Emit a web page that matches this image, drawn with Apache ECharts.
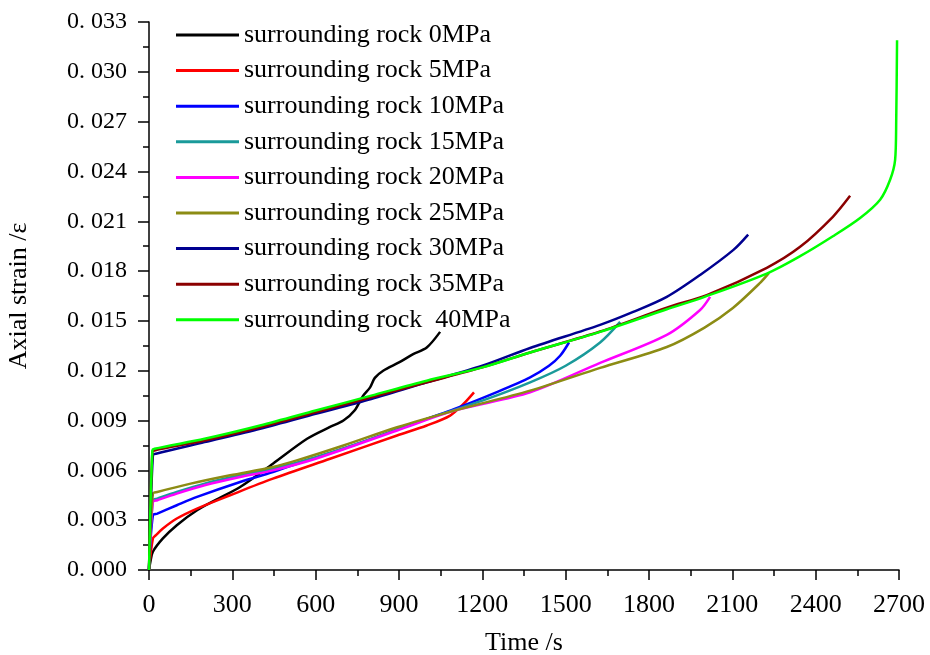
<!DOCTYPE html>
<html>
<head>
<meta charset="utf-8">
<script src="https://cdn.jsdelivr.net/npm/echarts@6/dist/echarts.min.js"></script>
<style>
  html, body { margin: 0; padding: 0; background: #fff; }
  #chart { width: 930px; height: 655px; }
</style>
</head>
<body>
<div id="chart"></div>
<script>
// legend names, colours
var names = [
  'surrounding rock 0MPa', 'surrounding rock 5MPa', 'surrounding rock 10MPa',
  'surrounding rock 15MPa', 'surrounding rock 20MPa', 'surrounding rock 25MPa',
  'surrounding rock 30MPa', 'surrounding rock 35MPa', 'surrounding rock  40MPa'
];
var colors = ['#000000', '#ff0000', '#0000ff', '#1a9a9a', '#ff00ff', '#8c8c14', '#000090', '#8b0000', '#00ff00'];

// [time s, axial strain]
var rock0 = [[0, 0], [5, 0.0005], [14, 0.0011], [50, 0.0019], [100, 0.0027], [173, 0.0036], [250, 0.0043],
  [328, 0.0050], [446, 0.0064], [569, 0.0079], [650, 0.0086], [700, 0.0090], [740, 0.0096], [771, 0.0105],
  [796, 0.0110], [813, 0.01157], [843, 0.0120], [900, 0.0125], [951, 0.0130], [1000, 0.0134], [1048, 0.01434]];
var rock5 = [[0, 0], [14, 0.0019], [25, 0.0021], [50, 0.0025], [100, 0.0031], [173, 0.0037], [292, 0.0045],
  [446, 0.0055], [652, 0.0067], [893, 0.0081], [1000, 0.0087], [1084, 0.0093], [1132, 0.0100], [1170, 0.0107]];
var rock10 = [[0, 0], [14, 0.0033], [30, 0.0034], [100, 0.0039], [173, 0.0044], [328, 0.0053], [446, 0.0059],
  [532, 0.0064], [700, 0.0073], [900, 0.0085], [1100, 0.0097], [1250, 0.0107], [1372, 0.0116], [1440, 0.0123],
  [1480, 0.0129], [1512, 0.0137]];
var rock15 = [[0, 0], [14, 0.0042], [30, 0.0043], [100, 0.0047], [200, 0.0052], [328, 0.0057], [446, 0.0061],
  [600, 0.0068], [800, 0.0079], [1000, 0.0091], [1200, 0.0102], [1372, 0.0113], [1500, 0.0123], [1624, 0.0137], [1696, 0.01494]];
var rock20 = [[0, 0], [14, 0.0041], [30, 0.0042], [100, 0.0046], [200, 0.0051], [328, 0.0056], [446, 0.0060],
  [600, 0.0067], [893, 0.0084], [1100, 0.0096], [1372, 0.0107], [1624, 0.01247], [1864, 0.01416], [1984, 0.01566], [2020, 0.01645]];
var rock25 = [[0, 0], [14, 0.0046], [30, 0.0047], [150, 0.0052], [292, 0.0057], [446, 0.0062], [532, 0.0066],
  [700, 0.0075], [893, 0.0086], [1100, 0.0096], [1372, 0.0108], [1624, 0.01217], [1864, 0.01343], [2000, 0.0146],
  [2102, 0.01578], [2200, 0.01729], [2232, 0.01789]];
var rock30 = [[0, 0], [14, 0.0069], [25, 0.0070], [200, 0.0077], [400, 0.0085], [600, 0.0094], [800, 0.0103],
  [1000, 0.0113], [1200, 0.0123], [1372, 0.01337], [1624, 0.01476], [1743, 0.01554], [1864, 0.01645], [1984, 0.01777],
  [2104, 0.01928], [2157, 0.0202]];
var rock35 = [[0, 0], [12, 0.0071], [20, 0.0072], [200, 0.0078], [400, 0.0086], [600, 0.0095], [800, 0.0104],
  [1000, 0.0113], [1200, 0.0122], [1372, 0.0131], [1624, 0.01436], [1864, 0.0158], [2010, 0.01657], [2224, 0.0182],
  [2344, 0.01946], [2462, 0.02127], [2524, 0.02253]];
var rock40 = [[0, 0], [12, 0.0072], [20, 0.0073], [200, 0.0079], [400, 0.0087], [600, 0.0096], [800, 0.0105],
  [1000, 0.0114], [1200, 0.0122], [1372, 0.0131], [1624, 0.01434], [1864, 0.0157], [2000, 0.01645], [2224, 0.01785],
  [2344, 0.0189], [2462, 0.0201], [2560, 0.0212], [2632, 0.0223], [2668, 0.0235], [2686, 0.0247], [2690, 0.0271], [2693, 0.0319]];

var curves = [rock0, rock5, rock10, rock15, rock20, rock25, rock30, rock35, rock40];

var font = 'Liberation Serif';

var chart = echarts.init(document.getElementById('chart'));
chart.setOption({
  animation: false,
  backgroundColor: '#fff',
  color: colors,
  grid: { left: 149, right: 31, top: 22, bottom: 85, outerBoundsMode: 'none', containLabel: false },
  legend: {
    orient: 'vertical',
    left: 176,
    top: 22,
    padding: 0,
    itemWidth: 63,
    itemHeight: 3,
    itemGap: 9.6,
    icon: 'rect',
    textStyle: { fontFamily: font, fontSize: 26, color: '#000', lineHeight: 26 },
    data: names
  },
  xAxis: {
    type: 'value',
    min: 0,
    max: 2700,
    interval: 300,
    name: 'Time /s',
    nameLocation: 'middle',
    nameGap: 60,
    nameTextStyle: { fontFamily: font, fontSize: 26, color: '#000' },
    axisLine: { lineStyle: { color: '#000', width: 1.5 } },
    axisTick: { inside: false, length: 10, lineStyle: { color: '#000', width: 1.5 } },
    minorTick: { show: true, splitNumber: 2, length: 6, lineStyle: { color: '#000', width: 1.5 } },
    axisLabel: {
      fontFamily: font, fontSize: 26, color: '#000', margin: 22,
      formatter: function (v) { return String(v); }
    },
    splitLine: { show: false }
  },
  yAxis: {
    type: 'value',
    min: 0,
    max: 0.033,
    interval: 0.003,
    name: 'Axial strain /ε',
    nameLocation: 'middle',
    nameGap: 117,
    nameTextStyle: { fontFamily: font, fontSize: 26, color: '#000' },
    axisLine: { show: true, lineStyle: { color: '#000', width: 1.5 } },
    axisTick: { show: true, inside: false, length: 11, lineStyle: { color: '#000', width: 1.5 } },
    minorTick: { show: true, splitNumber: 2, length: 6, lineStyle: { color: '#000', width: 1.5 } },
    axisLabel: {
      fontFamily: font, fontSize: 24, color: '#000', margin: 22,
      formatter: function (v) {
        return '0. ' + String(Math.round(v * 1000)).padStart(3, '0');
      }
    },
    splitLine: { show: false }
  },
  series: curves.map(function (d, i) {
    return {
      name: names[i],
      type: 'line',
      data: d,
      showSymbol: false,
      smooth: 0.3,
      lineStyle: { width: 2.5 }
    };
  })
});
</script>
</body>
</html>
